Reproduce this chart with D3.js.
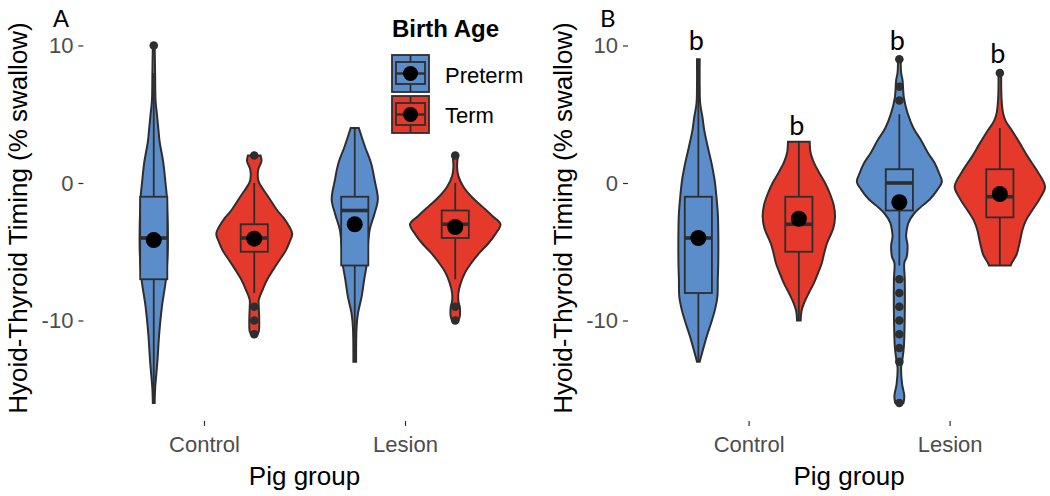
<!DOCTYPE html>
<html>
<head>
<meta charset="utf-8">
<script src="https://cdn.jsdelivr.net/npm/d3@7"></script>
<style>
  body { margin: 0; background: #fff; }
  svg { display: block; font-family: "Liberation Sans", Arial, sans-serif; }
</style>
</head>
<body>
<svg id="chart" width="1050" height="496"></svg>
<script>
// categories
const groups = ["Control", "Lesion"];
const ages = ["Preterm", "Term"];
const yTicks = [-10, 0, 10];

// violin outlines: [value, relative density (1 = full slot)]
const cpA = [[10,0.02],[8,0.03],[6,0.04],[5,0.07],[4,0.10],[3,0.13],[1.5,0.21],[0,0.26],[-1,0.29],[-2,0.30],[-3,0.31],[-5,0.31],[-7,0.27],[-9,0.18],[-11,0.12],[-13,0.08],[-15,0.03],[-16,0.02]];
const ctA = [[2,0.14],[1.6,0.16],[1,0.09],[0.4,0.08],[0,0.11],[-1,0.31],[-2,0.51],[-2.5,0.64],[-3.2,0.78],[-3.7,0.84],[-4.3,0.78],[-4.9,0.70],[-5.6,0.56],[-6.3,0.42],[-7,0.29],[-7.8,0.18],[-8.5,0.10],[-9,0.10],[-10,0.11],[-10.8,0.10],[-11,0.07]];
const lpA = [[4,0.09],[2.6,0.23],[1.45,0.36],[0.2,0.44],[-1.2,0.51],[-2.3,0.43],[-3.4,0.33],[-4.6,0.29],[-5.8,0.27],[-7,0.21],[-8.3,0.15],[-9.5,0.07],[-10.5,0.04],[-13,0.03]];
const ltA = [[2,0.06],[1.2,0.04],[0.5,0.07],[-0.27,0.18],[-1,0.36],[-1.7,0.59],[-2.4,0.82],[-3,1.0],[-3.7,0.89],[-4.4,0.73],[-5.1,0.53],[-5.8,0.36],[-6.5,0.22],[-7.3,0.12],[-8,0.07],[-8.6,0.07],[-9,0.10],[-9.7,0.10],[-10,0.07]];

const cpB = [[9,0.03],[7,0.03],[5.8,0.04],[4.8,0.09],[3.85,0.13],[2.6,0.21],[1.45,0.29],[0.2,0.36],[-1,0.40],[-2.2,0.43],[-3.4,0.44],[-5.8,0.44],[-7,0.43],[-8.3,0.42],[-9.3,0.36],[-10.2,0.28],[-11.1,0.19],[-11.9,0.12],[-12.5,0.07],[-13,0.03]];
const ctB = [[3,0.24],[2.2,0.26],[1.5,0.33],[0.8,0.44],[0,0.58],[-0.8,0.69],[-1.6,0.77],[-2.45,0.80],[-3.3,0.76],[-4.4,0.62],[-5.1,0.56],[-5.8,0.51],[-6.5,0.43],[-7.3,0.33],[-8,0.22],[-8.7,0.12],[-9.3,0.06],[-10,0.04]];
const lpB = [[9,0.03],[8,0.04],[7.5,0.07],[6.2,0.10],[5.1,0.18],[4,0.31],[3.1,0.48],[2.2,0.63],[1.45,0.78],[0.7,0.88],[0.1,0.94],[-0.5,0.84],[-1.2,0.67],[-1.7,0.49],[-2.2,0.33],[-2.9,0.20],[-3.5,0.16],[-3.9,0.15],[-4.5,0.18],[-4.9,0.18],[-5.4,0.16],[-5.8,0.11],[-7,0.12],[-9.5,0.12],[-11.9,0.10],[-13,0.06],[-13.4,0.04],[-14.6,0.06],[-15.5,0.11],[-16,0.09]];
const ltB = [[8,0.03],[7,0.03],[6,0.04],[5.1,0.07],[4.5,0.13],[3.85,0.26],[2.9,0.44],[1.9,0.62],[0.9,0.82],[-0.27,1.0],[-1.1,0.89],[-1.96,0.72],[-2.7,0.58],[-3.4,0.50],[-4,0.46],[-4.6,0.42],[-5.2,0.37],[-5.84,0.26],[-6,0.24]];

// box stats [lower whisker, q1, median, q3, upper whisker], order: Control-Preterm, Control-Term, Lesion-Preterm, Lesion-Term
const boxA = [[-16,-7,-4,-1,8],[-8,-5,-4,-3,0],[-13,-6,-2,-1,4],[-7,-4,-3,-2,0]];
const meanA = [-4.15, -4.05, -3.0, -3.2];
const outA = [[10],[2,-9,-10,-11],[],[2,-9,-10]];

const boxB = [[-13,-8,-4,-1,9],[-10,-5,-3,-1,3],[-6,-2,0,1,5],[-6,-2.5,-1,1,4]];
const meanB = [-4.0, -2.6, -1.4, -0.8];
const outB = [[],[],[9,7,6,-7,-8,-9,-10,-11,-12,-13,-16],[8]];

const lettersB = ["b","b","b","b"];
const letterYB = [9.67, 3.5, 9.67, 8.7];

const colors = {Preterm: "#5b8dcb", Term: "#e5392b"};
const ink = "#2e2e2e";

const svg = d3.select("#chart");

const y = d3.scaleLinear().domain([-17.3, 11.3]).range([420.9, 27.6]);

function drawPanel(opt) {
  const x = d3.scalePoint().domain(groups).range(opt.xr).padding(0.6);
  const step = x.step();
  const dodge = step * 0.25;
  const wScale = d3.scaleLinear().domain([0, 1]).range([0, step * 0.225]);
  const boxW = step * 0.135;

  const cells = [];
  groups.forEach((grp, i) => ages.forEach((age, j) => {
    const k = i * 2 + j;
    cells.push({grp, age, cx: x(grp) + (j === 0 ? -dodge : dodge),
      violin: opt.violins[k], box: opt.box[k], mean: opt.mean[k], out: opt.out[k]});
  }));

  const g = svg.append("g");

  // violins
  cells.forEach(c => {
    const area = d3.area()
      .y(d => y(d[0]))
      .x0(d => c.cx - wScale(d[1]))
      .x1(d => c.cx + wScale(d[1]))
      .curve(d3.curveCatmullRom);
    g.append("path")
      .attr("d", area(c.violin))
      .attr("fill", colors[c.age])
      .attr("stroke", ink)
      .attr("stroke-width", 2);
  });

  // boxplots
  cells.forEach(c => {
    const [lo, q1, med, q3, hi] = c.box;
    g.append("line").attr("x1", c.cx).attr("x2", c.cx)
      .attr("y1", y(hi)).attr("y2", y(q3))
      .attr("stroke", ink).attr("stroke-width", 1.8);
    g.append("line").attr("x1", c.cx).attr("x2", c.cx)
      .attr("y1", y(q1)).attr("y2", y(lo))
      .attr("stroke", ink).attr("stroke-width", 1.8);
    g.append("rect")
      .attr("x", c.cx - boxW / 2).attr("width", boxW)
      .attr("y", y(q3)).attr("height", y(q1) - y(q3))
      .attr("fill", colors[c.age])
      .attr("stroke", ink).attr("stroke-width", 1.8);
    g.append("line").attr("x1", c.cx - boxW / 2).attr("x2", c.cx + boxW / 2)
      .attr("y1", y(med)).attr("y2", y(med))
      .attr("stroke", ink).attr("stroke-width", 3.6);
    g.selectAll(null).data(c.out).enter().append("circle")
      .attr("cx", c.cx).attr("cy", d => y(d)).attr("r", 4.3)
      .attr("fill", ink);
  });

  // means
  cells.forEach(c => {
    g.append("circle").attr("cx", c.cx).attr("cy", y(c.mean)).attr("r", 8)
      .attr("fill", "#000");
  });

  // letters
  if (opt.letters) {
    cells.forEach((c, k) => {
      g.append("text").attr("x", c.cx - 2).attr("y", y(opt.letterY[k]))
        .attr("text-anchor", "middle")
        .style("font-family", "Lato, 'Open Sans', sans-serif")
        .style("font-size", "27px")
        .text(opt.letters[k]);
    });
  }

  // axes
  const ya = g.append("g").attr("transform", `translate(${opt.xr[0]},0)`)
    .call(d3.axisLeft(y).tickValues(yTicks).tickSize(5).tickPadding(5).tickFormat(d => String(d)));
  const xa = g.append("g").attr("transform", `translate(0,${y.range()[0]})`)
    .call(d3.axisBottom(x).tickSize(5).tickPadding(10));
  [ya, xa].forEach(a => {
    a.select(".domain").remove();
    a.selectAll(".tick line").attr("stroke", ink).attr("stroke-width", 1.2);
    a.selectAll(".tick text").attr("fill", "#4d4d4d")
      .style("font-size", "22px").style("font-family", "'Liberation Sans', Arial, sans-serif");
  });

  const midX = (opt.xr[0] + opt.xr[1]) / 2;
  g.append("text").attr("x", midX).attr("y", 485)
    .attr("text-anchor", "middle").style("font-size", "26px")
    .text("Pig group");
  g.append("text")
    .attr("transform", `translate(${opt.yTitleX},218) rotate(-90)`)
    .attr("text-anchor", "middle").style("font-size", "26px")
    .text("Hyoid-Thyroid Timing (% swallow)");
  g.append("text").attr("x", opt.tagX).attr("y", 27)
    .style("font-size", "24px").style("font-family", opt.tagFont)
    .text(opt.tag);
}

drawPanel({xr: [83.4, 525.6], violins: [cpA, ctA, lpA, ltA], box: boxA, mean: meanA, out: outA,
  yTitleX: 27, tag: "A", tagX: 53, tagFont: "'Liberation Sans', Arial, sans-serif"});
drawPanel({xr: [628, 1070.2], violins: [cpB, ctB, lpB, ltB], box: boxB, mean: meanB, out: outB,
  letters: lettersB, letterY: letterYB,
  yTitleX: 572, tag: "B", tagX: 600, tagFont: "Lato, sans-serif"});

// legend
const leg = svg.append("g").attr("transform", "translate(392,0)");
leg.append("text").attr("x", 0).attr("y", 37)
  .style("font-size", "24px").style("font-weight", "bold").text("Birth Age");
ages.forEach((age, i) => {
  const k = leg.append("g").attr("transform", `translate(0,${55 + i * 41})`);
  k.append("rect").attr("width", 37).attr("height", 37)
    .attr("fill", colors[age]).attr("stroke", ink).attr("stroke-width", 1.8);
  k.append("line").attr("x1", 18.5).attr("x2", 18.5).attr("y1", 0).attr("y2", 37)
    .attr("stroke", ink).attr("stroke-width", 1.8);
  k.append("rect").attr("x", 4).attr("y", 7).attr("width", 29).attr("height", 22)
    .attr("fill", colors[age]).attr("stroke", ink).attr("stroke-width", 1.8);
  k.append("line").attr("x1", 4).attr("x2", 33).attr("y1", 18.5).attr("y2", 18.5)
    .attr("stroke", ink).attr("stroke-width", 2.4);
  k.append("circle").attr("cx", 18.5).attr("cy", 18.5).attr("r", 7.5).attr("fill", "#000");
  leg.append("text").attr("x", 53).attr("y", 83 + i * 40)
    .style("font-size", "22px").text(age);
});
</script>
</body>
</html>
